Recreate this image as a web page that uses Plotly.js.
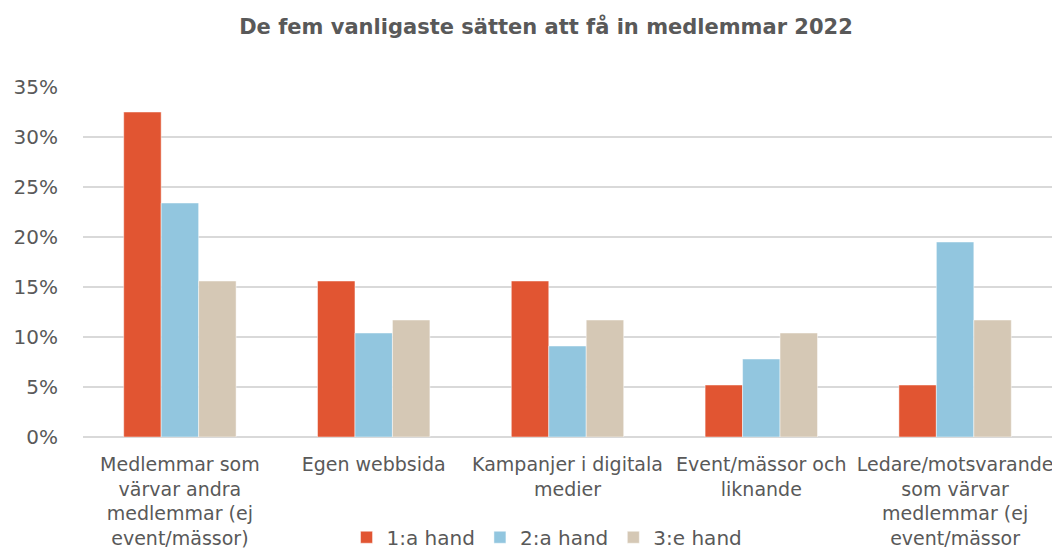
<!DOCTYPE html>
<html>
<head>
<meta charset="utf-8">
<script src="https://cdn.plot.ly/plotly-3.0.1.min.js"></script>
<style>html,body{margin:0;padding:0;background:#fff;}#chart{width:1052px;height:551px;}</style>
</head>
<body>
<div id="chart"></div>
<script>
const categories = [
  "Medlemmar som<br>värvar andra<br>medlemmar (ej<br>event/mässor)",
  "Egen webbsida",
  "Kampanjer i digitala<br>medier",
  "Event/mässor och<br>liknande",
  "Ledare/motsvarande<br>som värvar<br>medlemmar (ej<br>event/mässor"
];
const seriesNames = ["1:a hand", "2:a hand", "3:e hand"];
const first = [0.325, 0.156, 0.156, 0.052, 0.052];
const second = [0.234, 0.104, 0.091, 0.078, 0.195];
const third = [0.156, 0.117, 0.117, 0.104, 0.117];
const colors = ["#E15532", "#92C6DF", "#D5C8B5"];
const yTicks = [0, 0.05, 0.10, 0.15, 0.20, 0.25, 0.30, 0.35];

const font = "DejaVu Sans, Verdana, sans-serif";
const data = [first, second, third].map((vals, i) => ({
  type: "bar",
  x: categories,
  y: vals,
  name: seriesNames[i],
  marker: {color: colors[i], line: {color: "rgba(255,255,255,0.6)", width: 0.8}},
  hoverinfo: "y"
}));

const layout = {
  width: 1052, height: 551,
  margin: {l: 83, r: 0, t: 87, b: 114},
  paper_bgcolor: "#fff", plot_bgcolor: "#fff",
  title: {text: "<b>De fem vanligaste sätten att få in medlemmar 2022</b>",
          font: {family: font, size: 21, color: "#595959"},
          x: 0.519, xanchor: "center", xref: "container", y: 0.951, yanchor: "middle", yref: "container"},
  barmode: "group",
  bargap: 0.42, bargroupgap: 0,
  xaxis: {type: "category", showgrid: false, zeroline: false, showline: false, ticks: "",
          ticklabelstandoff: 14,
          tickfont: {family: font, size: 19, color: "#595959"}, automargin: false},
  yaxis: {range: [0, 0.35], tickvals: yTicks, tickformat: ".0%", showgrid: true,
          gridcolor: "#D9D9D9", gridwidth: 1.3, zeroline: true, zerolinecolor: "#D9D9D9", zerolinewidth: 1.3,
          showline: false, ticks: "", ticklabelstandoff: 24,
          tickfont: {family: font, size: 20, color: "#595959"}, automargin: false},
  showlegend: true,
  legend: {orientation: "h", xref: "container", yref: "container", x: 0.52, xanchor: "center",
           y: 0.025, yanchor: "middle", font: {family: font, size: 20, color: "#595959"},
           bgcolor: "rgba(0,0,0,0)", itemwidth: 30, traceorder: "normal"}
};
Plotly.newPlot("chart", data, layout, {displayModeBar: false, staticPlot: true});
</script>
</body>
</html>
